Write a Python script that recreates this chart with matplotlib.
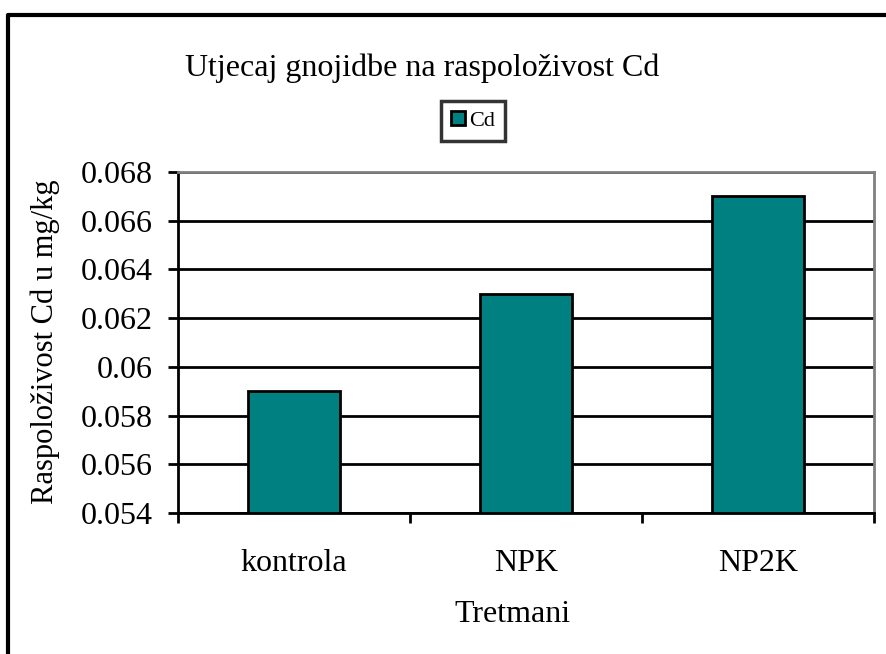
import matplotlib
matplotlib.use("Agg")
import matplotlib.pyplot as plt
from matplotlib.lines import Line2D

categories = ["kontrola", "NPK", "NP2K"]
values = [0.059, 0.063, 0.067]
yticks = [0.054, 0.056, 0.058, 0.06, 0.062, 0.064, 0.066, 0.068]
ytick_labels = ["0.054", "0.056", "0.058", "0.06", "0.062", "0.064", "0.066", "0.068"]
series_name = "Cd"
title = "Utjecaj gnojidbe na raspoloživost Cd"
xlabel = "Tretmani"
ylabel = "Raspoloživost Cd u mg/kg"

plt.rcParams['font.family'] = ['Liberation Serif', 'DejaVu Serif']

W, H = 887, 654
fig = plt.figure(figsize=(W / 100, H / 100), dpi=100)
fig.patch.set_facecolor('white')

def fx(px):
    return px / W

def fy(py):
    return 1 - py / H

# outer chart border (cut off at right and bottom)
fig.add_artist(Line2D([fx(8), fx(8), fx(900)], [fy(700), fy(15), fy(15)],
                      transform=fig.transFigure, color='black', lw=3))

L, R, T, B = 178, 874, 172, 513
ax = fig.add_axes([fx(L), fy(B), fx(R - L), (B - T) / H])

x = list(range(len(categories)))
bars = ax.bar(x, values, width=0.4, color='#008080', edgecolor='black',
              linewidth=2, label=series_name, zorder=2)

ax.set_xlim(-0.5, len(categories) - 0.5)
ax.set_ylim(yticks[0], yticks[-1])
ax.set_yticks(yticks)
ax.set_yticklabels(ytick_labels)
ax.set_xticks(x)
ax.set_xticklabels(categories)
ax.set_xticks([i - 0.5 for i in range(len(categories) + 1)], minor=True)

ax.tick_params(axis='y', which='major', length=7, width=2, pad=11, labelsize=23,
               direction='out', color='black')
ax.tick_params(axis='x', which='major', length=0, pad=26, labelsize=23)
ax.tick_params(axis='x', which='minor', length=7, width=2, direction='out')

ax.yaxis.grid(True, color='black', lw=2)
ax.set_axisbelow(True)

for s in ['left', 'bottom']:
    ax.spines[s].set_color('black')
    ax.spines[s].set_linewidth(2)
for s in ['top', 'right']:
    ax.spines[s].set_color('#808080')
    ax.spines[s].set_linewidth(2)

fig.text(fx(422), fy(68), title, ha='center', va='center', fontsize=23)
fig.text(fx(513), fy(615), xlabel, ha='center', va='center', fontsize=23)
fig.text(fx(45), fy(342), ylabel, ha='center', va='center', fontsize=22,
         rotation=90)

leg = fig.legend(handles=[bars], labels=[series_name], loc='center',
                 bbox_to_anchor=(fx(473), fy(121)), fontsize=16,
                 frameon=True, fancybox=False, edgecolor='black',
                 handlelength=0.65, handleheight=0.6, handletextpad=0.2,
                 borderpad=0.45, borderaxespad=0)
leg.get_frame().set_linewidth(2.5)
for p in leg.get_patches():
    p.set_linewidth(2)

fig.savefig("out.png", dpi=100, facecolor='white')
